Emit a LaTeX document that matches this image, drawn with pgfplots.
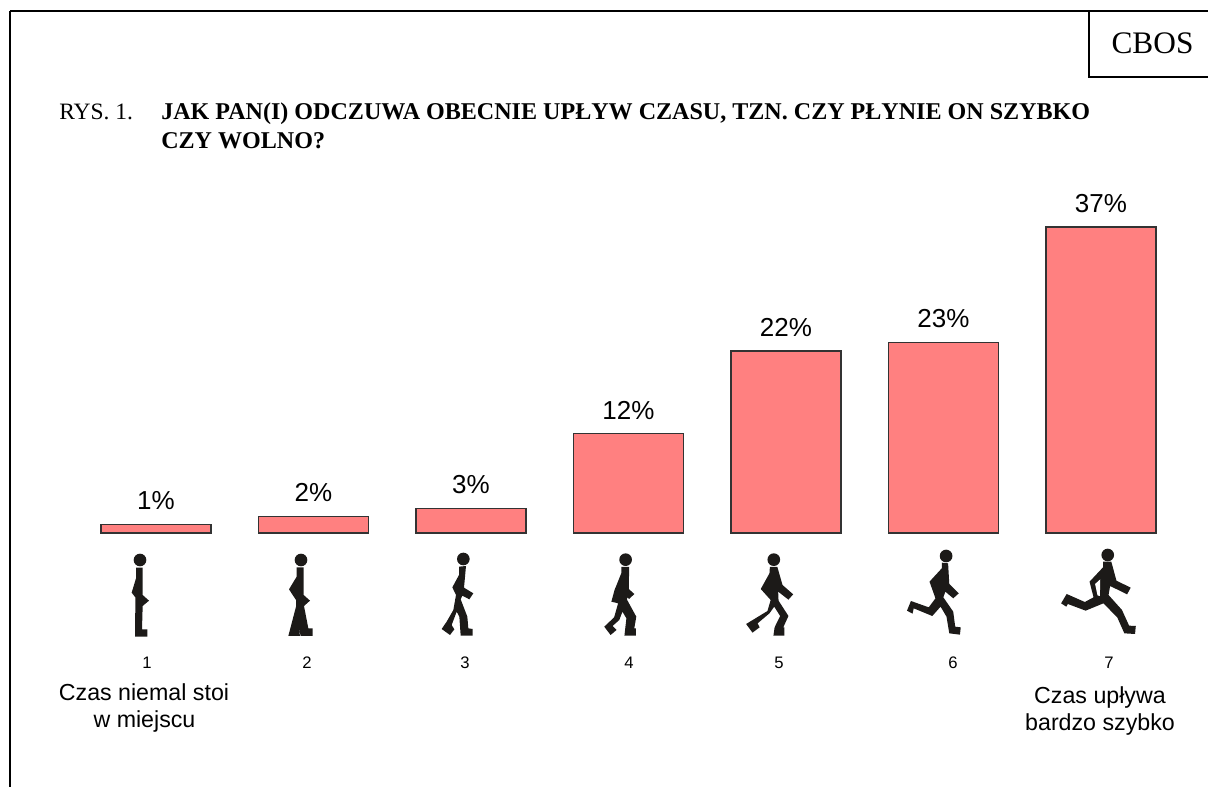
\documentclass[border=0pt]{standalone}
\usepackage{pgfplots}
\pgfplotsset{compat=1.18}
\usepackage{fontspec}
\setmainfont{Liberation Sans}
\newfontfamily\serif{Liberation Serif}
\definecolor{barpink}{HTML}{FF8080}
\definecolor{figink}{HTML}{1C1A18}
\begin{document}
\begin{tikzpicture}
\path[use as bounding box] (0,0) rectangle (906pt,-590.25pt);
\begin{axis}[
  at={(57.9375pt,-399.75pt)},anchor=south west,
  scale only axis,width=826.875pt,height=248.1pt,
  xmin=-0.5,xmax=6.5,ymin=0,ymax=40,
  clip=false,
  axis line style={draw=none},
  major tick length=0pt,
  ytick=\empty,
  xtick={-0.057,0.959,1.962,3.003,3.956,5.06,6.051},
  xticklabels={1,2,3,4,5,6,7},
  xticklabel style={anchor=north,yshift=-89.5pt,font=\fontsize{12.5pt}{14pt}\selectfont},
  ybar,bar width=82.5pt,
  point meta=y,
  nodes near coords={\pgfmathprintnumber[assume math mode=true]{\pgfplotspointmeta}\%},
  nodes near coords style={font=\fontsize{19.5pt}{22pt}\selectfont,anchor=south,inner sep=0pt,yshift=10.5pt},
]
\addplot[draw=black!80,line width=0.9pt,fill=barpink] coordinates {
 (0,1) (1,2) (2,3) (3,12) (4,22) (5,23) (6,37)};
\end{axis}
\begin{scope}[x=0.75pt,y=-0.75pt]
\draw[line width=1.5pt] (10,11) -- (1208,11);
\draw[line width=1.2pt] (10,11) -- (10,787);
\draw[line width=1.4pt] (1089,11) -- (1089,77) -- (1208,77);
\node[anchor=base,inner sep=0pt,font=\serif\fontsize{23.5pt}{28pt}\selectfont] at (1152.5,53.5) {CBOS};
\node[anchor=base west,inner sep=0pt,font=\serif\fontsize{17.6pt}{20pt}\selectfont] at (59,120) {RYS. 1.};
\node[anchor=base west,inner sep=0pt,font=\serif\bfseries\fontsize{18.05pt}{20pt}\selectfont] at (161,120) {JAK PAN(I) ODCZUWA OBECNIE UPŁYW CZASU, TZN. CZY PŁYNIE ON SZYBKO};
\node[anchor=base west,inner sep=0pt,font=\serif\bfseries\fontsize{18.05pt}{20pt}\selectfont] at (161,149) {CZY WOLNO?};
\node[anchor=base,inner sep=0pt,font=\fontsize{17.4pt}{22pt}\selectfont] at (144,701) {Czas niemal stoi};
\node[anchor=base,inner sep=0pt,font=\fontsize{17.4pt}{22pt}\selectfont] at (144.5,728) {w miejscu};
\node[anchor=base,inner sep=0pt,font=\fontsize{17.4pt}{22pt}\selectfont] at (1100,704) {Czas upływa};
\node[anchor=base,inner sep=0pt,font=\fontsize{17.4pt}{22pt}\selectfont] at (1100,731) {bardzo szybko};
\end{scope}
% walking figures, in crop coordinates
\begin{scope}[x=0.25pt,y=-0.25pt,shift={(270,1530)},fill=figink]
\fill (150,150) circle [radius=4.75pt];
\fill (138,173)--(158,173)--(158,255)--(177,272)--(158,288)--(156,358)--(172,358)--(172,380)--(135,380)--(136,285)--(136,262)--(125,248)--(138,205)--cycle;
\fill (633,150) circle [radius=4.75pt];
\fill (620,172)--(641,172)--(641,255)--(660,272)--(642,288)--(655,355)--(668,355)--(668,378)--(632,378)--(625,345)--(630,378)--(595,378)--(618,290)--(618,270)--(597,238)--(620,200)--cycle;
\fill (1120,147) circle [radius=4.75pt];
\fill (1107,170)--(1128,168)--(1122,233)--(1150,250)--(1138,268)--(1117,257)--(1112,268)--(1132,320)--(1135,355)--(1148,357)--(1148,377)--(1112,377)--(1108,320)--(1100,305)--(1085,345)--(1093,358)--(1080,375)--(1055,357)--(1070,335)--(1090,300)--(1098,255)--(1087,232)--(1107,195)--cycle;
\end{scope}
\begin{scope}[x=0.2964pt,y=-0.25pt,shift={(1417,1530)},fill=figink]
\fill (166,149) circle [radius=4.75pt];
\fill (155,171)--(175,171)--(174,237)--(188,252)--(175,267)--(170,262)--(170,270)--(193,320)--(188,355)--(192,355)--(192,377)--(163,377)--(168,325)--(158,305)--(150,330)--(133,348)--(143,360)--(128,375)--(112,350)--(137,322)--(147,280)--(130,275)--(138,240)--(155,190)--cycle;
\fill (541,149) circle [radius=4.75pt];
\fill (531,171)--(550,171)--(563,225)--(590,253)--(578,269)--(552,245)--(553,272)--(578,318)--(565,352)--(568,352)--(568,377)--(540,377)--(543,352)--(557,318)--(542,290)--(530,310)--(500,340)--(505,352)--(487,368)--(471,342)--(525,303)--(533,270)--(508,237)--(530,190)--cycle;
\fill (977,138) circle [radius=4.75pt];
\fill (966,158)--(982,160)--(985,222)--(1009,250)--(995,265)--(975,245)--(970,262)--(995,305)--(1000,350)--(1014,352)--(1012,374)--(985,370)--(978,320)--(963,290)--(942,318)--(895,295)--(892,311)--(878,302)--(888,273)--(933,292)--(950,265)--(935,215)--(966,175)--cycle;
\fill (1386,135) circle [radius=4.75pt];
\fill (1374,155)--(1395,155)--(1408,212)--(1444,233)--(1435,253)--(1392,228)--(1388,255)--(1422,300)--(1440,347)--(1457,348)--(1455,372)--(1428,370)--(1410,322)--(1375,280)--(1330,302)--(1285,282)--(1281,290)--(1268,280)--(1282,252)--(1328,276)--(1350,262)--(1340,215)--(1374,172)--cycle;
\fill[white] (1354,222)--(1367,208)--(1366,258)--(1360,256)--cycle;
\end{scope}
\end{tikzpicture}
\end{document}
